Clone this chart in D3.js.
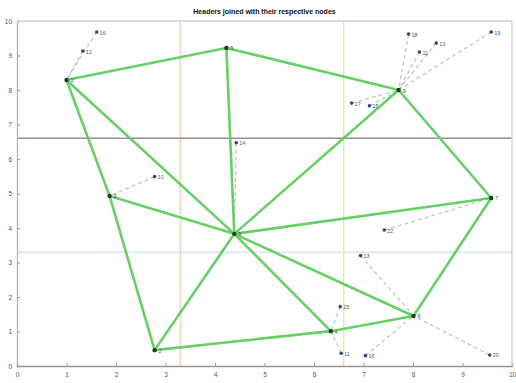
<!DOCTYPE html>
<html>
<head>
<meta charset="utf-8">
<script src="https://cdn.jsdelivr.net/npm/d3@7/dist/d3.min.js"></script>
<style>
  html, body { margin: 0; padding: 0; background: #fff; }
  svg { display: block; font-family: "Liberation Sans", Arial, sans-serif; }
</style>
</head>
<body>
<svg id="chart" width="516" height="383"></svg>
<script>
// Cluster heads
const headLabels = ["1", "5", "9", "3", "8", "7", "2", "4", "6"];
const headX = [1.00, 4.23, 7.71, 1.87, 4.39, 9.58, 2.78, 6.34, 8.01];
const headY = [8.29, 9.22, 8.00, 4.93, 3.83, 4.87, 0.46, 1.01, 1.45];

// Links between heads (index pairs)
const headLinks = [
  [0, 1], [1, 2], [0, 3], [0, 4], [1, 4], [2, 4], [2, 5], [3, 4],
  [3, 6], [4, 5], [4, 6], [4, 7], [4, 8], [5, 8], [6, 7], [7, 8]
];

// Member nodes and the head each one is joined to
const memberLabels = ["12", "16", "18", "11", "13", "19", "17", "15", "14", "10", "22", "13", "15", "11", "16", "20"];
const memberX = [1.33, 1.61, 7.91, 8.13, 8.47, 9.58, 6.76, 7.12, 4.43, 2.78, 7.42, 6.94, 6.53, 6.55, 7.04, 9.55];
const memberY = [9.13, 9.68, 9.62, 9.10, 9.36, 9.68, 7.62, 7.54, 6.47, 5.49, 3.94, 3.20, 1.72, 0.37, 0.30, 0.32];
const memberHead = [0, 0, 2, 2, 2, 2, 2, 2, 4, 3, 5, 8, 7, 7, 8, 8];

// Zone boundaries
const zoneBounds = [3.3, 6.6];
const vZoneColors = ["#f0d3c4", "#ebe2b6"];
const hZoneColors = ["#d3e9f6", "#9a8c8c"];

const xTicks = d3.range(0, 11);
const yTicks = d3.range(0, 11);
const title = "Headers joined with their respective nodes";

const svg = d3.select("#chart");
const x = d3.scaleLinear().domain([0, 10]).range([17, 512]);
const y = d3.scaleLinear().domain([0, 10]).range([366, 21]);

// Title
svg.append("text")
  .attr("x", (x(0) + x(10)) / 2)
  .attr("y", 14)
  .attr("text-anchor", "middle")
  .attr("font-size", 7)
  .attr("font-weight", "bold")
  .attr("fill", "#111")
  .text(title);

// Zone lines
zoneBounds.forEach((b, i) => {
  svg.append("line")
    .attr("x1", x(b)).attr("x2", x(b))
    .attr("y1", y(0)).attr("y2", y(10))
    .attr("stroke", vZoneColors[i]).attr("stroke-width", 1.5);
  svg.append("line")
    .attr("x1", x(0)).attr("x2", x(10))
    .attr("y1", y(b)).attr("y2", y(b))
    .attr("stroke", hZoneColors[i]).attr("stroke-width", i === 1 ? 1.6 : 1.5);
});

// Axes
const xAxis = d3.axisBottom(x).tickValues(xTicks).tickSize(-3).tickPadding(6).tickFormat(d3.format("d"));
const yAxis = d3.axisLeft(y).tickValues(yTicks).tickSize(-3).tickPadding(5).tickFormat(d3.format("d"));
const gx = svg.append("g").attr("transform", `translate(0,${y(0)})`).call(xAxis);
const gy = svg.append("g").attr("transform", `translate(${x(0)},0)`).call(yAxis);
[gx, gy].forEach(g => {
  g.selectAll("text").attr("font-size", 6.5).attr("fill", "#555");
  g.selectAll("line").attr("stroke", "#999");
  g.select(".domain").attr("stroke", "#aab4bc").attr("stroke-width", 1.3);
});
gx.select(".domain").attr("stroke", "#999");
// Top and right frame
svg.append("line").attr("x1", x(0)).attr("x2", x(10)).attr("y1", y(10)).attr("y2", y(10))
  .attr("stroke", "#c9d1d8").attr("stroke-width", 1.3);
svg.append("line").attr("x1", x(10)).attr("x2", x(10)).attr("y1", y(10)).attr("y2", y(0))
  .attr("stroke", "#c9d1d8").attr("stroke-width", 1.3);

// Dashed member links
svg.append("g").selectAll("line")
  .data(memberX.map((_, i) => i))
  .join("line")
  .attr("x1", i => x(memberX[i])).attr("y1", i => y(memberY[i]))
  .attr("x2", i => x(headX[memberHead[i]])).attr("y2", i => y(headY[memberHead[i]]))
  .attr("stroke", "#b9c8b9")
  .attr("stroke-width", 1.2)
  .attr("stroke-dasharray", "4,3");

// Head links
svg.append("g").selectAll("line")
  .data(headLinks)
  .join("line")
  .attr("x1", d => x(headX[d[0]])).attr("y1", d => y(headY[d[0]]))
  .attr("x2", d => x(headX[d[1]])).attr("y2", d => y(headY[d[1]]))
  .attr("stroke", "#66d066")
  .attr("stroke-width", 2.6)
  .attr("stroke-linecap", "round");

// Member nodes
const mg = svg.append("g");
mg.selectAll("circle")
  .data(memberX.map((_, i) => i))
  .join("circle")
  .attr("cx", i => x(memberX[i])).attr("cy", i => y(memberY[i]))
  .attr("r", 1.8)
  .attr("fill", "#3b3f8e");
mg.selectAll("text")
  .data(memberX.map((_, i) => i))
  .join("text")
  .attr("x", i => x(memberX[i]) + 3).attr("y", i => y(memberY[i]) + 2.5)
  .attr("font-size", 5.5)
  .attr("fill", "#556")
  .text(i => memberLabels[i]);

// Head nodes
const hg = svg.append("g");
hg.selectAll("circle")
  .data(headX.map((_, i) => i))
  .join("circle")
  .attr("cx", i => x(headX[i])).attr("cy", i => y(headY[i]))
  .attr("r", 2.2)
  .attr("fill", "#1d3d26");
hg.selectAll("text")
  .data(headX.map((_, i) => i))
  .join("text")
  .attr("x", i => x(headX[i]) + 4).attr("y", i => y(headY[i]) + 2.5)
  .attr("font-size", 5.5)
  .attr("fill", "#556")
  .text(i => headLabels[i]);
</script>
</body>
</html>
